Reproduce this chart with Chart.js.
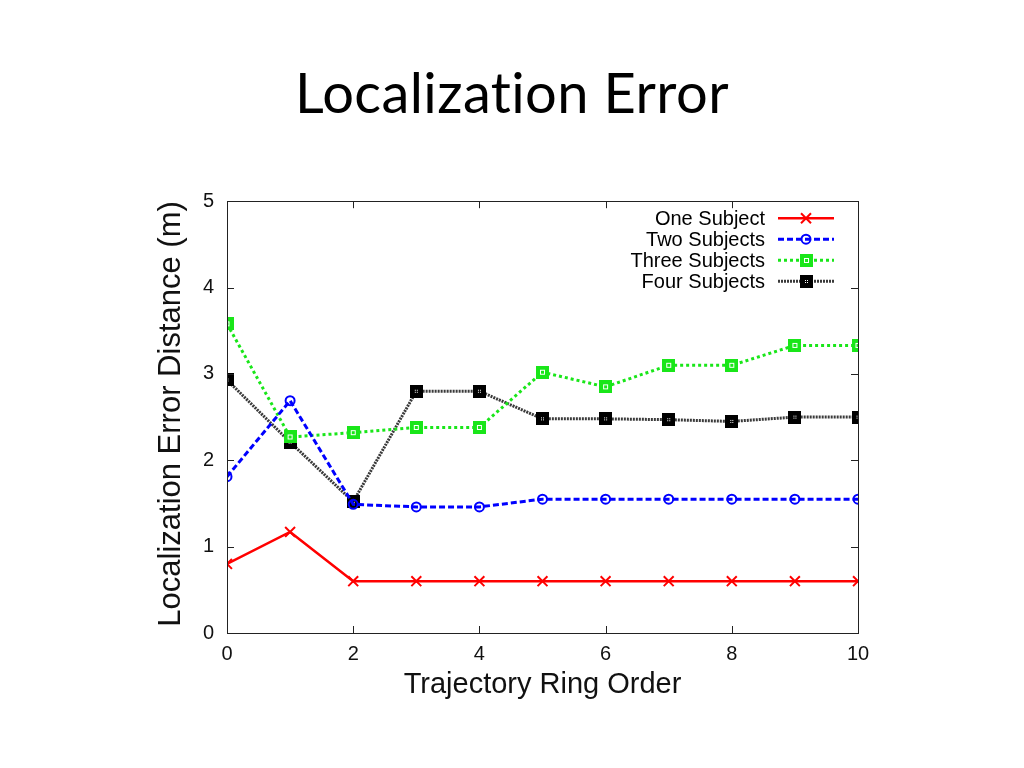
<!DOCTYPE html>
<html>
<head>
<meta charset="utf-8">
<title>Localization Error</title>
<script src="https://cdn.jsdelivr.net/npm/chart.js@4.4.1/dist/chart.umd.min.js"></script>
<style>
  html, body { margin: 0; padding: 0; background: #fff; }
  #wrap { width: 1024px; height: 768px; }
</style>
</head>
<body>
<div id="wrap"><canvas id="errChart" width="1024" height="768"></canvas></div>
<script>
// values
var ringOrder = [0, 1, 2, 3, 4, 5, 6, 7, 8, 9, 10];
var oneSubject = [0.80, 1.17, 0.60, 0.60, 0.60, 0.60, 0.60, 0.60, 0.60, 0.60, 0.60];
var twoSubjects = [1.81, 2.69, 1.49, 1.46, 1.46, 1.55, 1.55, 1.55, 1.55, 1.55, 1.55];
var threeSubjects = [3.58, 2.27, 2.32, 2.38, 2.38, 3.02, 2.85, 3.10, 3.10, 3.33, 3.33];
var fourSubjects = [2.93, 2.21, 1.52, 2.80, 2.80, 2.48, 2.48, 2.47, 2.45, 2.50, 2.50];
var seriesNames = ["One Subject", "Two Subjects", "Three Subjects", "Four Subjects"];

function toPoints(vals) {
	return vals.map(function(v, i) { return { x: ringOrder[i], y: v }; });
}

// square markers with a little white mark inside, like the gnuplot ones
function squareMarker(fill, inner) {
	var c = document.createElement("canvas");
	c.width = 13; c.height = 13;
	var g = c.getContext("2d");
	g.fillStyle = fill;
	g.fillRect(0, 0, 13, 13);
	g.strokeStyle = "#fff";
	g.lineWidth = 1;
	if (inner === "box") {
		g.strokeRect(4.5, 4.5, 4, 4);
	} else {
		g.fillStyle = "#fff";
		g.fillRect(5, 5, 1, 1); g.fillRect(7, 5, 1, 1);
		g.fillRect(5, 7, 1, 1); g.fillRect(7, 7, 1, 1);
	}
	return c;
}

var greenSq = squareMarker("#19e619", "box");
var blackSq = squareMarker("#000", "dots");

// box round the plot, ticks pointing inward, legend inside top right
var frame = {
	id: "frame",
	beforeDraw: function(chart) {
		// only the page title is drawn before the datasets (axes use z: 1),
		// spacing + optimizeSpeed keep Lato from joining "ti"
		chart.ctx.letterSpacing = "0.4px";
		chart.ctx.textRendering = "optimizeSpeed";
	},
	beforeDatasetsDraw: function(chart) {
		chart.ctx.letterSpacing = "0px";
		chart.ctx.textRendering = "auto";
	},
	afterDatasetsDraw: function(chart) {
		var ctx = chart.ctx, a = chart.chartArea;
		var xs = chart.scales.x, ys = chart.scales.y;
		ctx.save();
		ctx.strokeStyle = "#222";
		ctx.lineWidth = 1;
		ctx.strokeRect(Math.round(a.left) + 0.5, Math.round(a.top) + 0.5,
			Math.round(a.right - a.left), Math.round(a.bottom - a.top));
		ctx.beginPath();
		xs.ticks.forEach(function(t) {
			var px = Math.round(xs.getPixelForValue(t.value)) + 0.5;
			ctx.moveTo(px, a.bottom); ctx.lineTo(px, a.bottom - 7);
			ctx.moveTo(px, a.top); ctx.lineTo(px, a.top + 7);
		});
		ys.ticks.forEach(function(t) {
			var py = Math.round(ys.getPixelForValue(t.value)) + 0.5;
			ctx.moveTo(a.left, py); ctx.lineTo(a.left + 7, py);
			ctx.moveTo(a.right, py); ctx.lineTo(a.right - 7, py);
		});
		ctx.stroke();

		// legend
		ctx.font = "20px 'Liberation Sans', Arial, sans-serif";
		ctx.textAlign = "right";
		ctx.textBaseline = "middle";
		chart.data.datasets.forEach(function(ds, i) {
			var y = a.top + 17 + i * 21;
			var x0 = a.right - 80, x1 = a.right - 24;
			var mx = (x0 + x1) / 2;
			ctx.fillStyle = "#000";
			ctx.fillText(ds.label, x0 - 13, y + 1);
			ctx.save();
			ctx.strokeStyle = ds.borderColor;
			ctx.lineWidth = ds.borderWidth;
			ctx.setLineDash(ds.borderDash || []);
			ctx.beginPath();
			ctx.moveTo(x0, y); ctx.lineTo(x1, y);
			ctx.stroke();
			ctx.restore();
			if (ds.pointStyle instanceof HTMLCanvasElement) {
				ctx.drawImage(ds.pointStyle, Math.round(mx - 6.5), Math.round(y - 6.5));
			} else {
				ctx.strokeStyle = ds.borderColor;
				ctx.lineWidth = 2;
				ctx.beginPath();
				if (ds.pointStyle === "crossRot") {
					ctx.moveTo(mx - 5, y - 5); ctx.lineTo(mx + 5, y + 5);
					ctx.moveTo(mx + 5, y - 5); ctx.lineTo(mx - 5, y + 5);
				} else {
					ctx.arc(mx, y, ds.pointRadius, 0, Math.PI * 2);
				}
				ctx.stroke();
			}
		});
		ctx.restore();
	}
};

var data = {
	datasets: [
		{
			label: seriesNames[0],
			data: toPoints(oneSubject),
			borderColor: "#ff0000",
			backgroundColor: "#ff0000",
			borderWidth: 2.5,
			pointStyle: "crossRot",
			pointRadius: 7,
			pointBorderWidth: 2
		},
		{
			label: seriesNames[1],
			data: toPoints(twoSubjects),
			borderColor: "#0000ff",
			backgroundColor: "rgba(0,0,0,0)",
			borderWidth: 3,
			borderDash: [6, 3],
			pointStyle: "circle",
			pointRadius: 4.5,
			pointBorderWidth: 2
		},
		{
			label: seriesNames[2],
			data: toPoints(threeSubjects),
			borderColor: "#19e619",
			backgroundColor: "#19e619",
			borderWidth: 3,
			borderDash: [3, 3],
			pointStyle: greenSq
		},
		{
			label: seriesNames[3],
			data: toPoints(fourSubjects),
			borderColor: "#3a3a3a",
			backgroundColor: "#000",
			borderWidth: 3,
			borderDash: [2, 1],
			pointStyle: blackSq
		}
	]
};

var tickFont = { family: "'Liberation Sans', Arial, sans-serif", size: 20 };

var options = {
	responsive: false,
	animation: false,
	layout: { padding: 0 },
	plugins: {
		legend: { display: false },
		tooltip: { enabled: false },
		title: {
			display: true,
			text: "Localization Error",
			color: "#000",
			font: { family: "Lato, 'Open Sans', sans-serif", size: 56, weight: "normal", lineHeight: 1.2 },
			padding: { top: 61, bottom: 73 }
		}
	},
	elements: { line: { tension: 0, fill: false } },
	scales: {
		x: {
			type: "linear",
			min: 0, max: 10,
			grid: { display: false, drawTicks: false, z: 1 },
			border: { display: false },
			ticks: { stepSize: 2, color: "#111", padding: 9, z: 1, font: tickFont },
			title: {
				display: true, text: "Trajectory Ring Order", color: "#111",
				font: { family: "'Liberation Sans', Arial, sans-serif", size: 29, lineHeight: 1.2 },
				padding: { top: 0, bottom: 66 }
			},
			afterFit: function(s) { s.height = 135; }
		},
		y: {
			min: 0, max: 5,
			grid: { display: false, drawTicks: false, z: 1 },
			border: { display: false },
			ticks: { stepSize: 1, color: "#111", padding: 13, z: 1, font: tickFont },
			title: {
				display: true, text: "Localization Error Distance (m)", color: "#111",
				align: "end",
				font: { family: "'Liberation Sans', Arial, sans-serif", size: 31, lineHeight: 1.2 },
				padding: { top: 153, bottom: 0 }
			},
			afterFit: function(s) { s.width = 227; }
		},
		// empty right-hand axis, only there to leave the margin so the title stays centred on the page
		side: {
			position: "right",
			display: true,
			grid: { display: false, drawTicks: false, z: 1 },
			border: { display: false },
			ticks: { display: false, z: 1 },
			afterFit: function(s) { s.width = 166; }
		}
	}
};

var chart = new Chart(document.getElementById("errChart"), {
	type: "line",
	data: data,
	options: options,
	plugins: [frame]
});
</script>
</body>
</html>
